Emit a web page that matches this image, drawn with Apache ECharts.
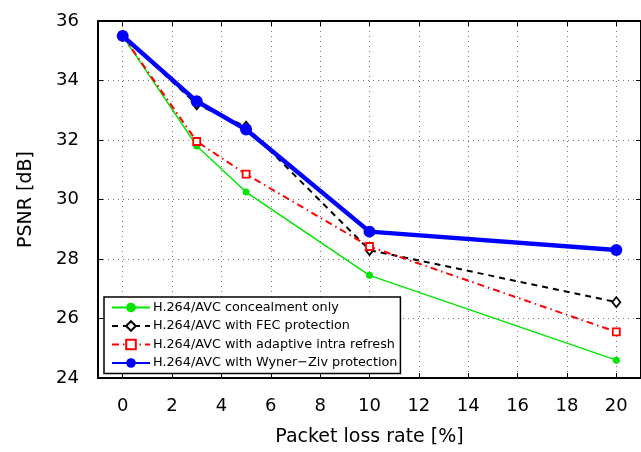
<!DOCTYPE html>
<html>
<head>
<meta charset="utf-8">
<script src="https://cdn.jsdelivr.net/npm/echarts@6/dist/echarts.min.js"></script>
<style>
  html, body { margin: 0; padding: 0; background: #fff; }
  #chart { width: 641px; height: 452px; }
</style>
</head>
<body>
<div id="chart"></div>
<script>
// packet loss rate [%]
const lossRates = [0, 3, 5, 10, 20];
const xTickValues = [0, 2, 4, 6, 8, 10, 12, 14, 16, 18, 20];

// PSNR [dB] per scheme
const concealmentOnly = [35.5, 31.8, 30.25, 27.45, 24.6];
const fecProtection = [35.5, 33.2, 32.45, 28.3, 26.55];
const intraRefresh = [35.5, 31.95, 30.85, 28.42, 25.55];
const wynerZiv = [35.5, 33.3, 32.35, 28.92, 28.3];

const names = [
  'H.264/AVC concealment only',
  'H.264/AVC with FEC protection',
  'H.264/AVC with adaptive intra refresh',
  'H.264/AVC with Wyner\u2212Ziv protection'
];

const pairs = (ys) => lossRates.map((x, i) => [x, ys[i]]);
const font = 'DejaVu Sans, Verdana, sans-serif';

const chart = echarts.init(document.getElementById('chart'));

const gridLine = { show: true, lineStyle: { color: '#777', type: [1, 4], width: 1 } };

chart.setOption({
  animation: false,
  grid: { left: 98, right: -1, top: 21, bottom: 74, containLabel: false },
  legend: {
    orient: 'vertical',
    left: 104,
    top: 297,
    backgroundColor: '#fff',
    borderColor: '#000',
    borderWidth: 1.5,
    borderRadius: 0,
    padding: [4, 3, 4, 7],
    itemWidth: 38,
    itemHeight: 12,
    itemGap: 5.5,
    textStyle: { fontFamily: font, fontSize: 12.8, color: '#000', padding: [0, 0, 0, -2] },
    data: names
  },
  xAxis: [{
    type: 'value', min: -1, max: 21,
    name: 'Packet loss rate [%]', nameLocation: 'middle', nameGap: 50,
    nameTextStyle: { fontFamily: font, fontSize: 19, color: '#000' },
    axisLine: { show: true, onZero: false, lineStyle: { color: '#000', width: 2 } },
    axisTick: { show: true, inside: true, length: 5, customValues: xTickValues, lineStyle: { color: '#000', width: 1 } },
    axisLabel: { customValues: xTickValues, margin: 19, fontFamily: font, fontSize: 18, color: '#000' },
    splitLine: gridLine
  }, {
    type: 'value', min: -1, max: 21, position: 'top',
    axisLine: { show: true, onZero: false, lineStyle: { color: '#000', width: 2 } },
    axisTick: { show: true, inside: true, length: 5, customValues: xTickValues, lineStyle: { color: '#000', width: 1 } },
    axisLabel: { show: false },
    splitLine: { show: false }
  }],
  yAxis: [{
    type: 'value', min: 24, max: 36, interval: 2,
    name: 'PSNR [dB]', nameLocation: 'middle', nameGap: 62,
    nameTextStyle: { fontFamily: font, fontSize: 19, color: '#000' },
    axisLine: { show: true, onZero: false, lineStyle: { color: '#000', width: 2 } },
    axisTick: { show: true, inside: true, length: 5, lineStyle: { color: '#000', width: 1 } },
    axisLabel: { margin: 19, fontFamily: font, fontSize: 18, color: '#000' },
    splitLine: gridLine
  }, {
    type: 'value', min: 24, max: 36, interval: 2, position: 'right',
    axisLine: { show: true, onZero: false, lineStyle: { color: '#000', width: 2 } },
    axisTick: { show: true, inside: true, length: 5, lineStyle: { color: '#000', width: 1 } },
    axisLabel: { show: false },
    splitLine: { show: false }
  }],
  series: [{
    name: names[0], type: 'line', data: pairs(concealmentOnly),
    symbol: 'circle', symbolSize: 7,
    lineStyle: { color: '#00e600', width: 1.5 },
    itemStyle: { color: '#00e600' }, z: 2
  }, {
    name: names[1], type: 'line', data: pairs(fecProtection),
    symbol: 'diamond', symbolSize: [8, 10],
    lineStyle: { color: '#000', width: 2, type: [6, 5] },
    itemStyle: { color: '#fff', borderColor: '#000', borderWidth: 1.8 }, z: 3
  }, {
    name: names[2], type: 'line', data: pairs(intraRefresh),
    symbol: 'rect', symbolSize: 7,
    lineStyle: { color: '#ff0000', width: 2, type: [7, 4, 1.5, 4] },
    itemStyle: { color: '#fff', borderColor: '#ff0000', borderWidth: 1.8 }, z: 4
  }, {
    name: names[3], type: 'line', data: pairs(wynerZiv),
    symbol: 'circle', symbolSize: 12,
    lineStyle: { color: '#0000ff', width: 4.5 },
    itemStyle: { color: '#0000ff' }, z: 5
  }]
});
</script>
</body>
</html>
